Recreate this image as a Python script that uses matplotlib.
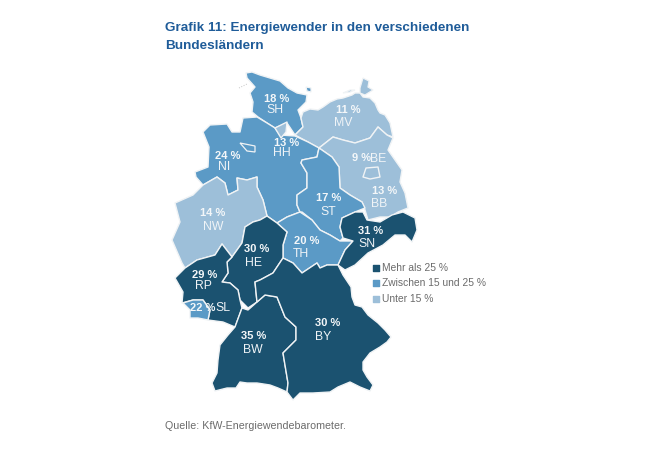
import matplotlib
matplotlib.use('Agg')
import matplotlib.pyplot as plt
from matplotlib.patches import Polygon

plt.rcParams['font.family'] = ['Liberation Sans', 'DejaVu Sans']

codes = ['SH', 'MV', 'NI', 'BB', 'NW', 'ST', 'TH', 'SN', 'HE', 'RP', 'SL', 'BW', 'BY', 'HH', 'BE']
percent = [18, 11, 24, 13, 14, 17, 20, 31, 30, 29, 22, 35, 30, 13, 9]
legend_labels = ['Mehr als 25 %', 'Zwischen 15 und 25 %', 'Unter 15 %']

dark = '#1b5270'
mid = '#5b9ac6'
light = '#9dbfd9'

# state outlines, in image pixels
outlines = {
    'SH': [(246, 73), (252, 72), (260, 75), (270, 78), (280, 81), (288, 88), (297, 93), (307, 95), (306, 102),
           (298, 110), (301, 118), (303, 127), (295, 135), (287, 123), (275, 128), (267, 123), (258, 117),
           (252, 112), (253, 102), (250, 93), (255, 87), (247, 78)],
    'MV': [(301, 118), (303, 112), (310, 109), (318, 110), (323, 107), (330, 102), (337, 99), (343, 98), (352, 95),
           (355, 93), (360, 93), (363, 97), (370, 98), (375, 103), (378, 110), (380, 113), (385, 115), (390, 123),
           (393, 137), (387, 135), (378, 127), (370, 138), (355, 143), (343, 140), (333, 137), (319, 148), (308, 142),
           (295, 135), (303, 127)],
    'NI': [(243, 118), (257, 117), (267, 123), (275, 128), (280, 135), (295, 136), (308, 142), (319, 148), (317, 157),
           (302, 160), (301, 163), (307, 173), (307, 188), (297, 195), (297, 205), (300, 212), (287, 217), (277, 223),
           (267, 216), (263, 200), (257, 187), (257, 177), (247, 180), (237, 178), (238, 190), (228, 195), (225, 183),
           (217, 177), (203, 185), (196, 177), (195, 172), (208, 167), (209, 147), (203, 132), (210, 125), (227, 124),
           (232, 132), (240, 132)],
    'HH': [(275, 128), (287, 122), (286, 132), (281, 138)],
    'BB': [(319, 148), (333, 137), (343, 140), (355, 143), (370, 138), (378, 127), (387, 135), (393, 138), (388, 150),
           (395, 160), (402, 170), (400, 182), (405, 193), (408, 208), (398, 212), (390, 217), (380, 217), (368, 220),
           (365, 210), (362, 202), (350, 195), (340, 188), (339, 167), (332, 157)],
    'BE': [(363, 177), (366, 168), (378, 167), (380, 177), (370, 179)],
    'ST': [(302, 160), (317, 157), (319, 148), (332, 157), (339, 167), (340, 188), (350, 195), (362, 202), (365, 208),
           (355, 212), (342, 218), (340, 227), (343, 238), (340, 241), (330, 235), (320, 230), (312, 220), (302, 212),
           (300, 212), (297, 205), (297, 195), (307, 188), (307, 173), (301, 163)],
    'NW': [(175, 203), (193, 195), (203, 185), (217, 177), (225, 183), (228, 195), (238, 190), (237, 178), (247, 180),
           (257, 177), (257, 187), (263, 200), (267, 216), (260, 220), (253, 222), (245, 227), (242, 243), (232, 257),
           (222, 244), (215, 255), (197, 260), (185, 268), (182, 263), (172, 240), (180, 222)],
    'TH': [(300, 212), (312, 220), (320, 230), (330, 235), (340, 241), (353, 241), (345, 250), (338, 265), (327, 265),
           (320, 268), (317, 263), (302, 273), (293, 263), (283, 258), (283, 245), (287, 232), (277, 223), (287, 217)],
    'SN': [(342, 218), (355, 212), (363, 212), (367, 220), (380, 222), (392, 215), (403, 212), (415, 218), (417, 230),
           (412, 242), (405, 235), (395, 235), (383, 245), (368, 253), (355, 265), (345, 270), (338, 265), (345, 250),
           (353, 241), (343, 238), (340, 227)],
    'HE': [(267, 216), (277, 223), (287, 232), (283, 245), (283, 258), (273, 273), (260, 280), (255, 282), (257, 302),
           (248, 308), (240, 300), (238, 290), (230, 283), (222, 282), (228, 273), (227, 262), (232, 257), (242, 243),
           (245, 227), (253, 222), (260, 220)],
    'RP': [(185, 268), (197, 260), (215, 255), (222, 244), (232, 257), (227, 262), (228, 273), (222, 282), (230, 283),
           (238, 290), (240, 300), (242, 308), (235, 327), (223, 322), (208, 320), (210, 310), (203, 300), (193, 300),
           (182, 303), (183, 292), (175, 278)],
    'SL': [(183, 303), (193, 300), (203, 300), (210, 310), (208, 320), (198, 318), (190, 318), (190, 310)],
    'BW': [(242, 308), (248, 310), (257, 302), (265, 295), (277, 297), (285, 317), (296, 327), (296, 340), (283, 353),
           (288, 383), (287, 392), (278, 388), (270, 385), (257, 383), (247, 383), (240, 382), (236, 388), (227, 388),
           (215, 391), (212, 383), (217, 373), (218, 360), (220, 345), (228, 335), (235, 327)],
    'BY': [(255, 282), (260, 280), (273, 273), (283, 258), (293, 263), (302, 273), (317, 263), (320, 268), (327, 265),
           (338, 265), (343, 275), (351, 287), (352, 297), (355, 305), (362, 307), (368, 315), (378, 323), (385, 330),
           (391, 337), (387, 342), (380, 347), (370, 353), (363, 362), (363, 370), (367, 377), (373, 385), (370, 391),
           (360, 387), (350, 382), (338, 387), (330, 392), (313, 393), (300, 393), (293, 400), (287, 392), (288, 383),
           (283, 353), (296, 340), (296, 327), (285, 317), (277, 297), (265, 295), (257, 302)],
}
# Bremen sits inside NI, the rest are the coastal islands
extra_shapes = [
    ('NI', [(240, 143), (255, 146), (255, 152), (247, 151)]),
    ('SH', [(306, 87), (311, 88), (311, 92), (307, 91)]),
    ('MV', [(360, 88), (363, 78), (369, 81), (368, 87), (373, 90), (365, 95), (360, 93)]),
    ('MV', [(343, 93), (350, 90), (355, 90), (350, 92)]),
]
percent_pos = {
    'SH': (277, 99), 'HH': (287, 143), 'MV': (348, 110), 'NI': (228, 156), 'BE': (361, 158),
    'BB': (385, 191), 'NW': (213, 213), 'ST': (329, 198), 'TH': (307, 241), 'SN': (371, 231),
    'HE': (257, 249), 'RP': (205, 275), 'SL': (203, 308), 'BW': (254, 336), 'BY': (328, 323),
}
code_pos = {
    'SH': (275, 110), 'HH': (282, 153), 'MV': (343, 123), 'NI': (224, 167), 'BE': (378, 159),
    'BB': (379, 204), 'NW': (213, 227), 'ST': (328, 212), 'TH': (301, 254), 'SN': (367, 244),
    'HE': (253, 263), 'RP': (203, 286), 'SL': (223, 308), 'BW': (253, 350), 'BY': (323, 337),
}


def state_color(value):
    if value > 25:
        return dark
    if value >= 15:
        return mid
    return light


fig = plt.figure(figsize=(6.5, 4.5), dpi=100)
ax = fig.add_axes([0, 0, 1, 1])
ax.set_xlim(0, 650)
ax.set_ylim(450, 0)
ax.axis('off')

colors = dict(zip(codes, [state_color(p) for p in percent]))

for code in codes:
    ax.add_patch(Polygon(outlines[code], closed=True, facecolor=colors[code], edgecolor='#f0f3f5', linewidth=1.0,
                         joinstyle='round', zorder=2))
for code, shape in extra_shapes:
    ax.add_patch(Polygon(shape, closed=True, facecolor=colors[code], edgecolor='#f0f3f5', linewidth=0.9, zorder=3))
ax.plot([239, 247], [88, 84], color='#c4c4c4', lw=0.7, ls=':', zorder=2)

for code, p in zip(codes, percent):
    x, y = percent_pos[code]
    ax.text(x, y, f'{p} %', color='#f4f7f9', fontsize=8, fontweight='bold', ha='center', va='center', zorder=5)
    x, y = code_pos[code]
    ax.text(x, y, code, color='#f0f4f7', fontsize=8.8, ha='center', va='center', zorder=5)

ax.text(165, 28, 'Grafik 11: Energiewender in den verschiedenen', color='#1f5c99', fontsize=9.7, fontweight='bold',
        ha='left', va='center')
ax.text(165, 46, 'Bundesländern', color='#1f5c99', fontsize=9.7, fontweight='bold', ha='left', va='center')

for label, color, y in zip(legend_labels, [dark, mid, light], [268, 283, 299]):
    ax.scatter([376], [y], marker='s', s=14, color=color, zorder=4)
    ax.text(382, y, label, color='#6b6b6b', fontsize=7.4, ha='left', va='center')

ax.text(165, 426, 'Quelle: KfW-Energiewendebarometer.', color='#6b6b6b', fontsize=7.7, ha='left', va='center')

fig.savefig('out.png', dpi=100)
